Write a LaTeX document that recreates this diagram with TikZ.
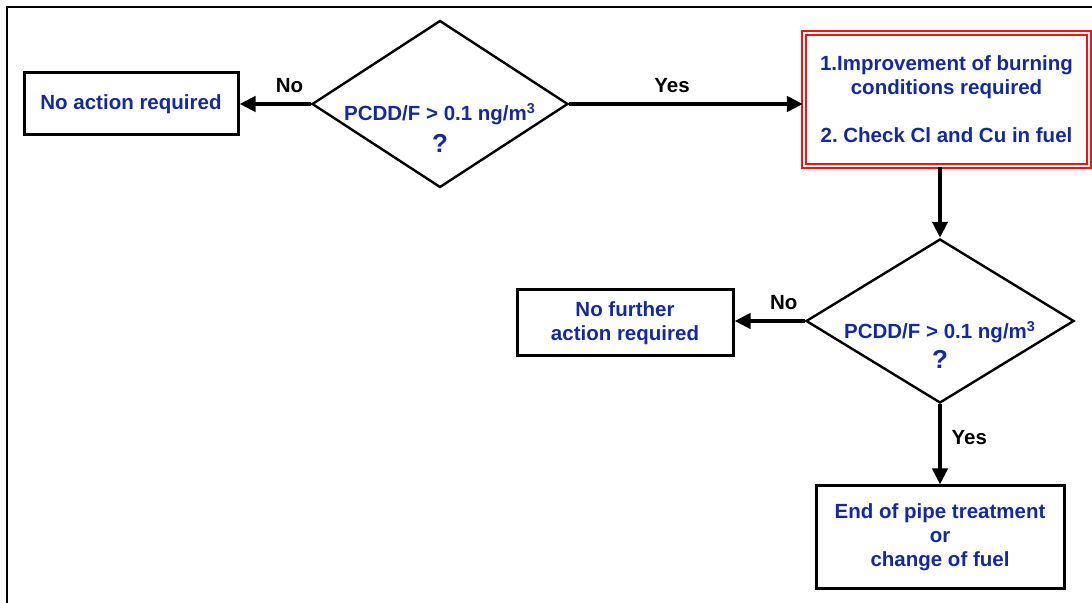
\documentclass[tikz,border=0pt]{standalone}
\usepackage{fontspec}
\setmainfont{Liberation Sans}
\usepackage{tikz}
\usetikzlibrary{positioning,arrows.meta,shapes.geometric}
\definecolor{textblue}{RGB}{18,42,158}
\definecolor{boxred}{RGB}{240,20,20}
\frenchspacing

\tikzset{
  basefont/.style={font=\bfseries\fontsize{10.25}{12}\selectfont},
  actbox/.style={draw, line width=1.5pt, basefont, text=textblue, align=center, inner sep=0pt},
  decision/.style={draw, diamond, line width=1.2pt, inner sep=0pt},
  qtext/.style={basefont, text=textblue, align=center, inner sep=0pt},
  flow/.style={-{Triangle[length=8pt,width=7.5pt]}, line width=2pt},
  answer/.style={basefont, text=black}
}

\begin{document}
\begin{tikzpicture}[x=0.5pt, y=-0.5pt]
\clip (0,0) rectangle (1092,603);
% frame
\draw[line width=1.2pt] (7,7) rectangle (1120,630);
% first decision
\node[decision, minimum width=128pt, minimum height=83.5pt] (check1) at (440,104) {};
\node[qtext] (q1) at ([yshift=-12pt]check1.center) {PCDD/F > 0.1 ng/m\textsuperscript{3}\\[4pt]{\fontsize{13}{13}\selectfont ?}};
\node[actbox, minimum width=107pt, minimum height=31pt] (noaction) at (131,104) {No action required};
\node[actbox, draw=boxred, line width=1.1pt, double=white, double distance=0.8pt,
      minimum width=142.5pt, minimum height=66.5pt] (improve) at (946.5,99.5)
  {1.Improvement of burning\\conditions required\\[12pt]2. Check Cl and Cu in fuel};
% second decision
\node[decision, minimum width=134pt, minimum height=82pt] (check2) at (940,321) {};
\node[qtext] (q2) at ([yshift=-12pt]check2.center) {PCDD/F > 0.1 ng/m\textsuperscript{3}\\[3pt]{\fontsize{13}{13}\selectfont ?}};
\node[actbox, minimum width=108pt, minimum height=33pt] (nofurther) at (625,323) {No further\\action required};
\node[actbox, minimum width=124pt, minimum height=51.5pt] (endpipe) at (940,537.5) {End of pipe treatment\\or\\change of fuel};
% connectors
\draw[flow] (check1.west) -- (noaction.east) node[answer, pos=0.3, above, yshift=1.5pt] (no1) {No};
\draw[flow] (check1.east) -- (improve.west |- check1.east) node[answer, pos=0.44, above, yshift=1.5pt] (yes1) {Yes};
\draw[flow] (improve.south -| check2.north) -- (check2.north);
\draw[flow] (check2.west) -- (nofurther.east |- check2.west) node[answer, pos=0.3, above, yshift=1.5pt] (no2) {No};
\draw[flow] (check2.south) -- (endpipe.north) node[answer, pos=0.41, right, xshift=1.5pt] (yes2) {Yes};
\end{tikzpicture}
\end{document}
